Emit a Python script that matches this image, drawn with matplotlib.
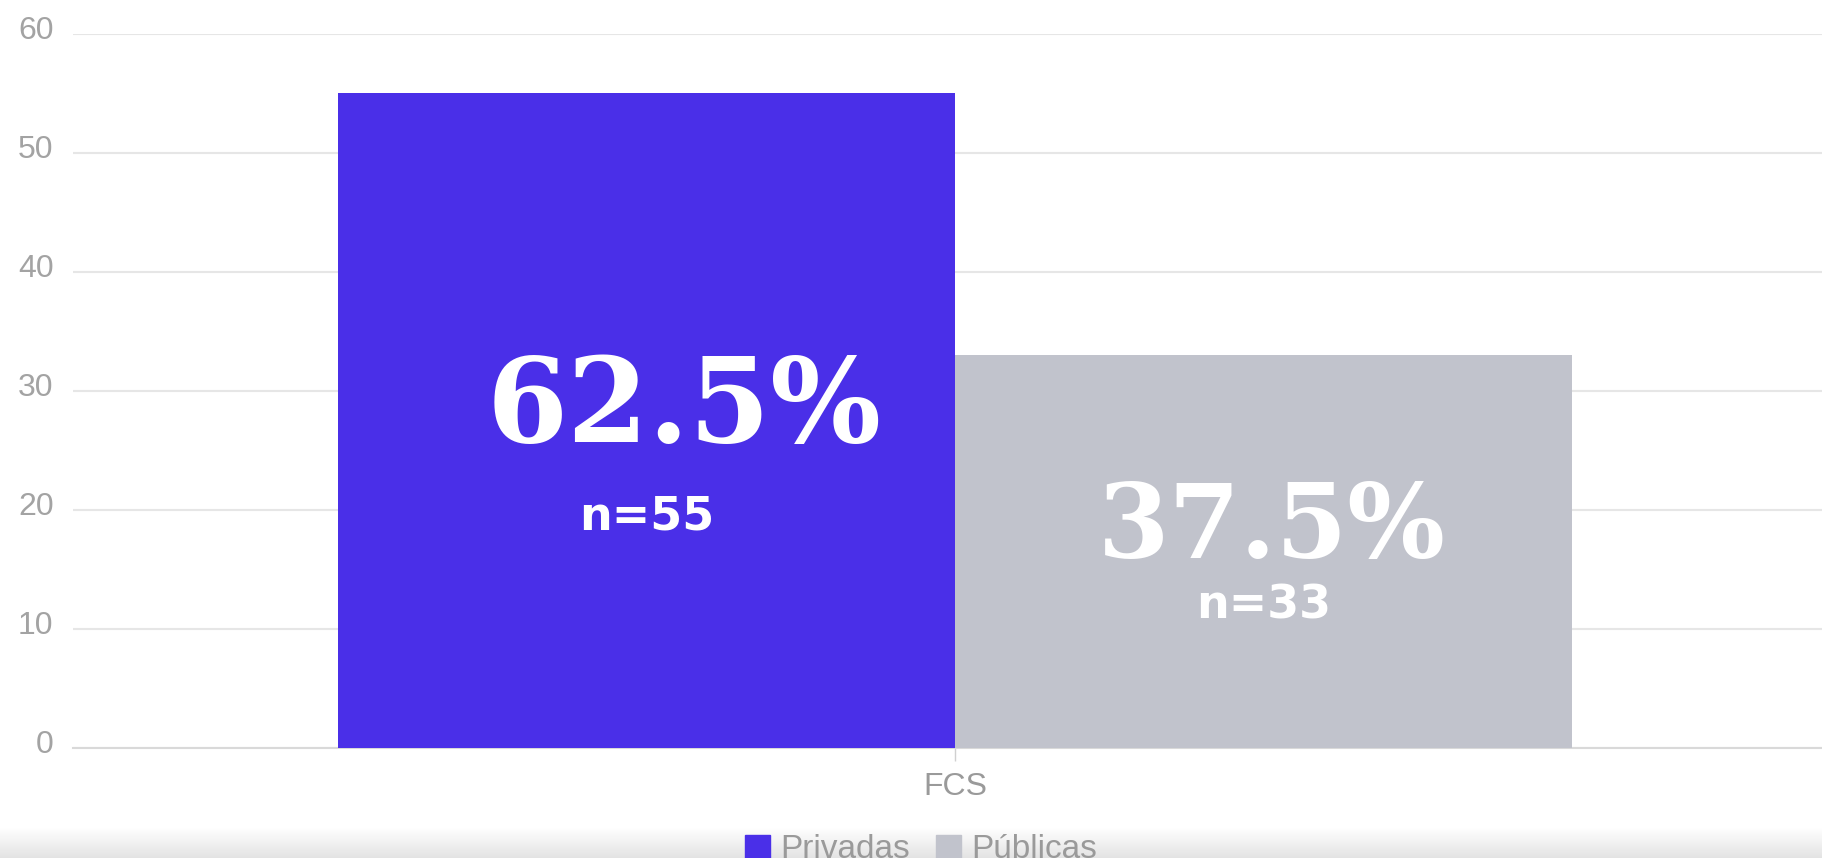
# %%
import numpy as np
import matplotlib.pyplot as plt
from matplotlib.patches import Patch
from matplotlib.transforms import ScaledTranslation

# %%
## data
categories = ["FCS"]
series = ["Privadas", "Públicas"]
counts = [55, 33]
percents = ["62.5%", "37.5%"]
n_labels = ["n=55", "n=33"]

COLORS = ["#4a2fe8", "#c1c3cc"]
GRAY = "#a3a3a3"
WIDTH = 0.35

# label layout (data-unit heights / px offsets) -- tuned by eye
pct_y = [28.4, 18.3]
n_y = [19.4, 11.9]
pct_dx = [38, 8]
pct_size = [84, 74]

# %%
fig = plt.figure(figsize=(18.22, 8.58), dpi=100)
ax = fig.add_axes([73 / 1822, 110.5 / 858, 1764 / 1822, 714 / 858])

x = np.arange(len(categories))
for i, (name, val) in enumerate(zip(series, counts)):
    pos = x + (i - 0.5) * WIDTH
    ax.bar(pos, [val], width=WIDTH, color=COLORS[i], zorder=3, label=name)
    off = ScaledTranslation(pct_dx[i] / 100, 0, fig.dpi_scale_trans)
    ax.text(
        pos[0], pct_y[i], percents[i],
        ha="center", va="center", color="white",
        fontsize=pct_size[i], family="DejaVu Serif", weight="bold",
        transform=ax.transData + off, zorder=4,
    )
    ax.text(
        pos[0], n_y[i], n_labels[i],
        ha="center", va="center", color="white",
        fontsize=33, family="DejaVu Sans", weight="bold", zorder=4,
    )

ax.set_xlim(-0.5, 0.5)
ax.set_ylim(0, 60)
ax.set_yticks(range(0, 61, 10))
ax.set_xticks(x)
ax.set_xticklabels(categories)

ax.grid(axis="y", color="#e6e6e6", linewidth=1.5, zorder=0)
ax.set_axisbelow(True)
for s in ["top", "right", "left"]:
    ax.spines[s].set_visible(False)
ax.spines["bottom"].set_color("#d9d9d9")
ax.spines["bottom"].set_linewidth(1.5)

ax.tick_params(axis="y", length=0, pad=14, labelsize=23, labelcolor=GRAY)
ax.tick_params(axis="x", length=9.5, width=1, color="#d0d0d0", pad=8,
               labelsize=23, labelcolor="#9a9a9a")
for lab in ax.get_yticklabels():
    lab.set_family("Liberation Sans")
    lab.set_transform(lab.get_transform() + ScaledTranslation(0, 6 / 100, fig.dpi_scale_trans))
for lab in ax.get_xticklabels():
    lab.set_family("Liberation Sans")

## legend (cut off at the bottom like the original)
handles = [Patch(facecolor=c, edgecolor=c) for c in COLORS]
fig.legend(
    handles, series,
    loc="center", bbox_to_anchor=(921 / 1822, 8 / 858),
    ncol=2, frameon=False, handlelength=0.75, handleheight=0.75,
    handletextpad=0.3, columnspacing=0.8,
    prop={"family": "Liberation Sans", "size": 24}, labelcolor="#9a9a9a",
)

## soft shadow along the bottom edge
shade = fig.add_axes([0, 0, 1, 30 / 858], zorder=-1)
grad = np.linspace(1.0, 0.89, 64).reshape(-1, 1)
shade.imshow(grad, aspect="auto", cmap="gray", vmin=0, vmax=1, extent=[0, 1, 0, 1])
shade.axis("off")

fig.savefig("out.png", dpi=100)
